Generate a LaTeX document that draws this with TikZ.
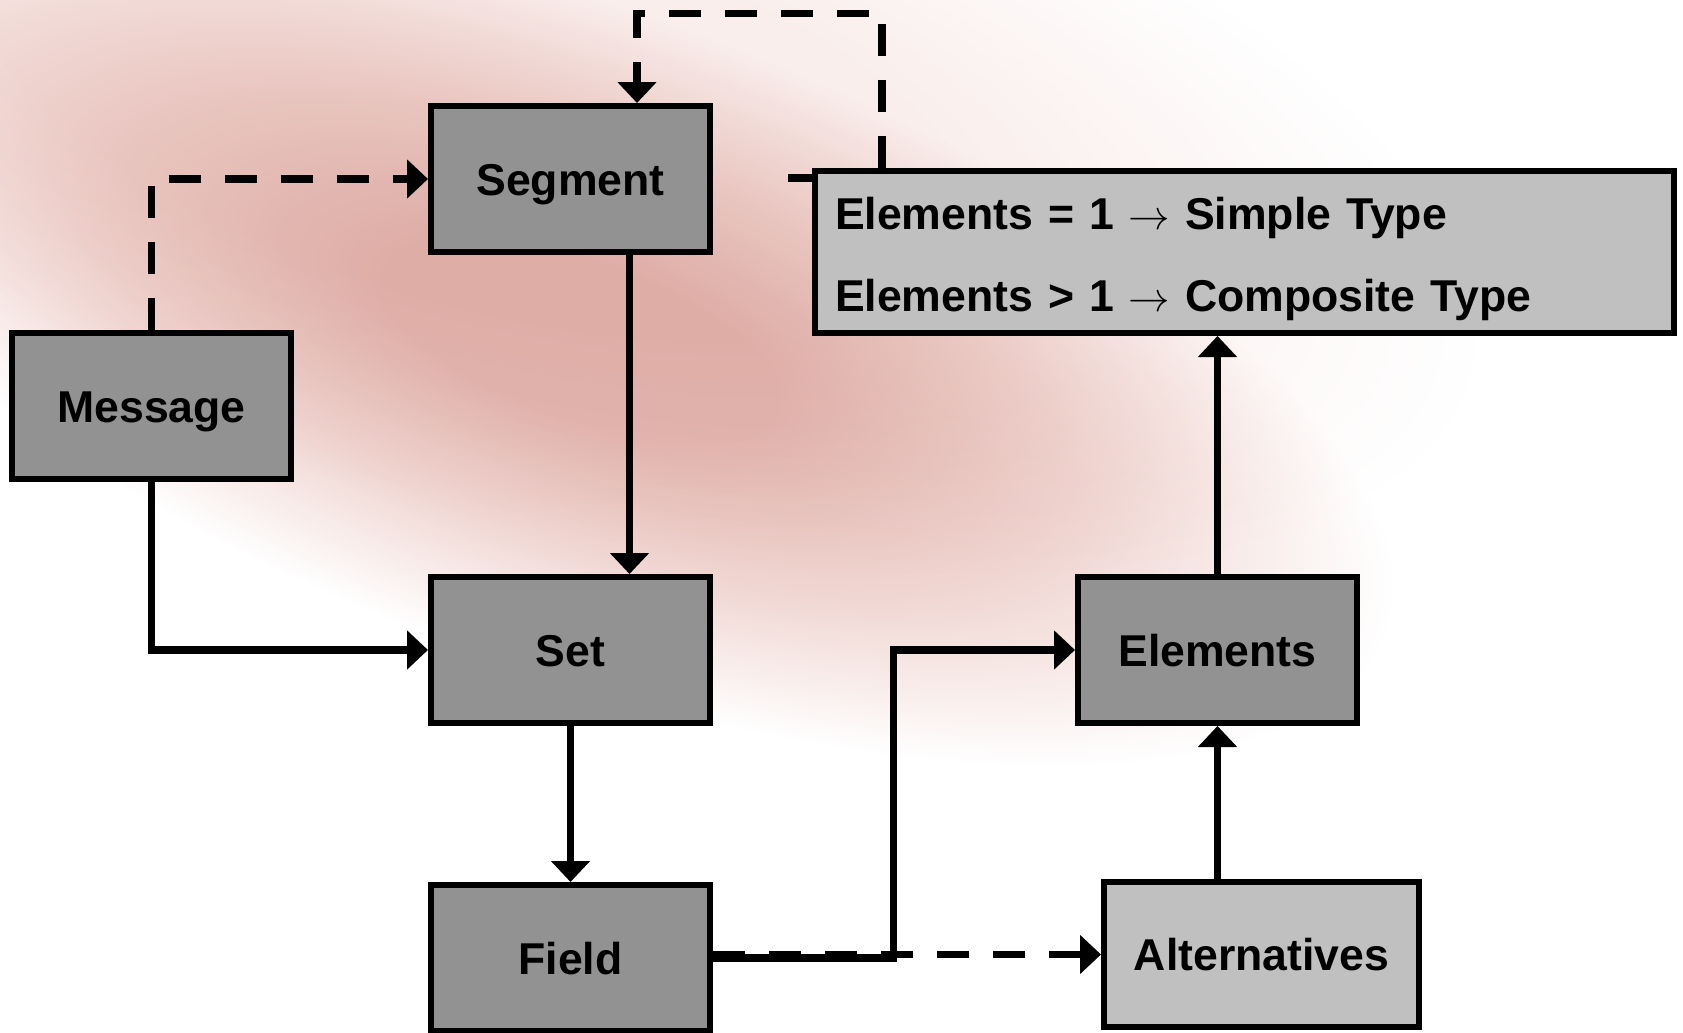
\documentclass[tikz,border=0pt]{standalone}
\usepackage{fontspec}
\setmainfont{Liberation Sans}
\usetikzlibrary{arrows.meta}
\definecolor{boxdark}{RGB}{146,146,146}
\definecolor{boxlight}{RGB}{192,192,192}
\definecolor{glowcore}{RGB}{228,186,180}
\definecolor{glowmid}{RGB}{240,214,210}
\definecolor{glowfaint}{RGB}{249,238,236}
\pgfdeclareradialshading{glow}{\pgfpoint{0bp}{0bp}}{color(0bp)=(glowcore); color(6bp)=(glowcore); color(15bp)=(glowmid); color(25bp)=(white); color(50bp)=(white)}
\pgfdeclareradialshading{haze}{\pgfpoint{0bp}{0bp}}{color(0bp)=(glowfaint); color(12bp)=(glowfaint); color(25bp)=(white); color(50bp)=(white)}
\begin{document}
\begin{tikzpicture}[x=0.5pt,y=-0.5pt,
  box/.style={draw=black, line width=3pt, fill=boxdark, minimum width=139.5pt, minimum height=73pt, inner sep=0pt, text height=20.5pt, text depth=4.5pt, font=\fontsize{22.3}{26}\selectfont\bfseries},
  lightbox/.style={box, fill=boxlight},
  conn/.style={line width=3.75pt, draw=black},
  arr/.style={conn, -{Triangle[length=10.5pt,width=19pt]}},
  darr/.style={arr, dash pattern=on 16pt off 12pt}]
\useasboundingbox (0,0) rectangle (1683,1033);
\fill[white] (0,0) rectangle (1683,1033);
\begin{scope}[blend mode=multiply]
\clip (0,0) rectangle (1683,1033);
\begin{scope}[transform canvas={rotate around={-15:(480,110)}}]
\shade[shading=haze] (480,110) ellipse [x radius=520pt, y radius=200pt];
\end{scope}
\begin{scope}[transform canvas={rotate around={-20:(580,340)}}]
\shade[shading=glow] (580,340) ellipse [x radius=430pt, y radius=165pt];
\end{scope}
\end{scope}
% nodes
\node[box] (seg) at (570.5,179) {Segment};
\node[box] (msg) at (151.5,406) {Message};
\node[box] (set) at (570.5,650) {Set};
\node[box] (fld) at (570.5,958) {Field};
\node[box] (elem) at (1217.5,650) {Elements};
\node[lightbox, minimum width=157.5pt, minimum height=72.5pt] (alt) at (1261.5,954.5) {Alternatives};
\node[lightbox, minimum width=429.5pt, minimum height=81pt, text height=, text depth=, text width=409.5pt, inner xsep=10pt, align=left, font=\fontsize{22.3}{41}\selectfont\bfseries] (info) at (1244.5,252) {\rule{0pt}{22.7pt}Elements = 1 $\rightarrow$ Simple Type\\Elements > 1 $\rightarrow$ Composite Type};
% connectors
\coordinate (tr) at (882,13.5);
\coordinate (tl) at (637,13.5);
\coordinate (stub) at (788,178);
\coordinate (bend) at (893.5,650);
\draw[darr] (msg.north) |- (seg.west);
\draw[arr] ([xshift=29.5pt]seg.south) -- ([xshift=29.5pt]set.north);
\draw[darr] (tr |- info.north) -- (tr) -- (tl) -- (tl |- seg.north);
\draw[conn] (stub) -- (stub -| info.west);
\draw[arr] (msg.south) |- (set.west);
\draw[arr] (set.south) -- (fld.north);
\draw[arr] (fld.east) -| (bend) -- (elem.west);
\draw[darr] (fld.east |- alt.west) -- (alt.west);
\draw[arr] (elem.south |- alt.north) -- (elem.south);
\draw[arr] (elem.north) -- (elem.north |- info.south);
\end{tikzpicture}
\end{document}
